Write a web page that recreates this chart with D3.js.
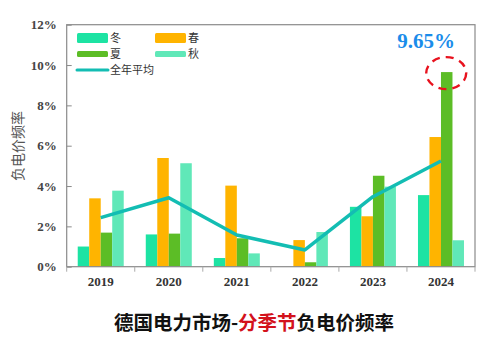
<!DOCTYPE html>
<html><head><meta charset="utf-8">
<script src="https://cdn.jsdelivr.net/npm/d3@7"></script>
<style>body{margin:0;background:#fff}svg{display:block}</style>
</head><body><svg id="c" width="488" height="342"></svg>
<script>
const years = ["2019","2020","2021","2022","2023","2024"];
const seasons = ["冬","春","夏","秋"];
const winter = [1.0, 1.6, 0.43, 0, 2.97, 3.55];
const spring = [3.39, 5.39, 4.02, 1.32, 2.5, 6.43];
const summer = [1.69, 1.64, 1.41, 0.22, 4.51, 9.65];
const autumn = [3.77, 5.13, 0.66, 1.72, 3.97, 1.31];
const average = [2.43, 3.42, 1.57, 0.83, 3.47, 5.24];
const yTicks = [0, 2, 4, 6, 8, 10, 12];
const colors = ["#1de3a3", "#ffb400", "#5cbd26", "#60e8b8"];
const lineColor = "#13bdb3";

const svg = d3.select("#c");
const L = 66.7, R = 475, T = 24.7, B = 266.7;
const x = d3.scaleBand().domain(years).range([L, R]);
const y = d3.scaleLinear().domain([0, 12]).range([B, T]);
const series = [winter, spring, summer, autumn];
const bw = 11.5;
const serif = "'Liberation Serif','Times New Roman',serif";

// bars
series.forEach((vals, si) => {
  svg.append("g").selectAll("rect").data(vals).join("rect")
    .attr("x", (d, i) => x(years[i]) + x.bandwidth()/2 - 2*bw + si*bw)
    .attr("width", bw)
    .attr("y", d => y(d))
    .attr("height", d => B - y(d))
    .attr("fill", colors[si]);
});

// average line
const line = d3.line().x((d, i) => x(years[i]) + x.bandwidth()/2).y(d => y(d));
svg.append("path").datum(average).attr("d", line)
  .attr("fill", "none").attr("stroke", lineColor).attr("stroke-width", 3.5)
  .attr("stroke-linejoin", "round");

// frame
svg.append("rect").attr("x", L).attr("y", T).attr("width", R - L).attr("height", B - T)
  .attr("fill", "none").attr("stroke", "#8a8a8a").attr("stroke-width", 1.2);

// y axis
const yAxis = svg.append("g").attr("transform", `translate(${L},0)`)
  .call(d3.axisRight(y).tickValues(yTicks).tickSize(5).tickFormat(d => d + "%"));
yAxis.select(".domain").remove();
yAxis.selectAll("line").attr("stroke", "#8a8a8a");
yAxis.selectAll("text").attr("x", -10).attr("text-anchor", "end")
  .attr("font-family", serif).attr("font-weight", "bold").attr("font-size", 13).attr("fill", "#444");

// x axis
const xAxis = svg.append("g").attr("transform", `translate(0,${B})`)
  .call(d3.axisBottom(x).tickSize(0).tickPadding(10));
xAxis.select(".domain").remove();
xAxis.selectAll("text").attr("font-family", serif).attr("font-weight", "bold")
  .attr("font-size", 13).attr("fill", "#333");
const bounds = years.map(yv => x(yv)).concat([R]);
svg.append("g").selectAll("line").data(bounds).join("line")
  .attr("x1", d => d).attr("x2", d => d).attr("y1", B).attr("y2", B + 5)
  .attr("stroke", "#aaa");

// y title
svg.append("text").attr("transform", "translate(23,146) rotate(-90)")
  .attr("text-anchor", "middle").attr("font-family", "'Noto Sans CJK SC',sans-serif")
  .attr("font-size", 14).attr("fill", "#555").text("负电价频率");

// legend
const lg = svg.append("g").attr("font-family", "'Noto Sans CJK SC',sans-serif")
  .attr("font-size", 11).attr("fill", "#333");
const legPos = [[77, 38, 10], [155, 38, 10], [77, 54, 6], [155, 54, 6]];
seasons.forEach((s, i) => {
  const [lx, ly, h] = legPos[i];
  lg.append("rect").attr("x", lx).attr("y", ly - h/2).attr("width", 31).attr("height", h)
    .attr("rx", 1.5).attr("fill", colors[i]);
  lg.append("text").attr("x", lx + 33).attr("y", ly + 4).text(s);
});
lg.append("line").attr("x1", 77).attr("x2", 108).attr("y1", 70).attr("y2", 70)
  .attr("stroke", lineColor).attr("stroke-width", 3).attr("stroke-linecap", "round");
lg.append("text").attr("x", 110).attr("y", 74).text("全年平均");

// annotation
const lastX = x("2024") + x.bandwidth()/2 + bw/2 - 0.5;
svg.append("text").attr("x", 426).attr("y", 48).attr("text-anchor", "middle")
  .attr("font-family", serif).attr("font-weight", "bold").attr("font-size", 21)
  .attr("fill", "#1a8cea").text("9.65%");
svg.append("ellipse").attr("cx", lastX).attr("cy", y(summer[5]) + 1).attr("rx", 20).attr("ry", 16)
  .attr("fill", "none").attr("stroke", "#e8121e").attr("stroke-width", 2.4)
  .attr("stroke-dasharray", "8,6");

// title
const title = svg.append("text").attr("x", 254).attr("y", 330).attr("text-anchor", "middle")
  .attr("font-family", "'Noto Sans CJK SC',sans-serif").attr("font-weight", "bold")
  .attr("font-size", 19.5).attr("fill", "#111");
title.append("tspan").text("德国电力市场-");
title.append("tspan").attr("fill", "#d3121c").text("分季节");
title.append("tspan").text("负电价频率");
</script></body></html>
